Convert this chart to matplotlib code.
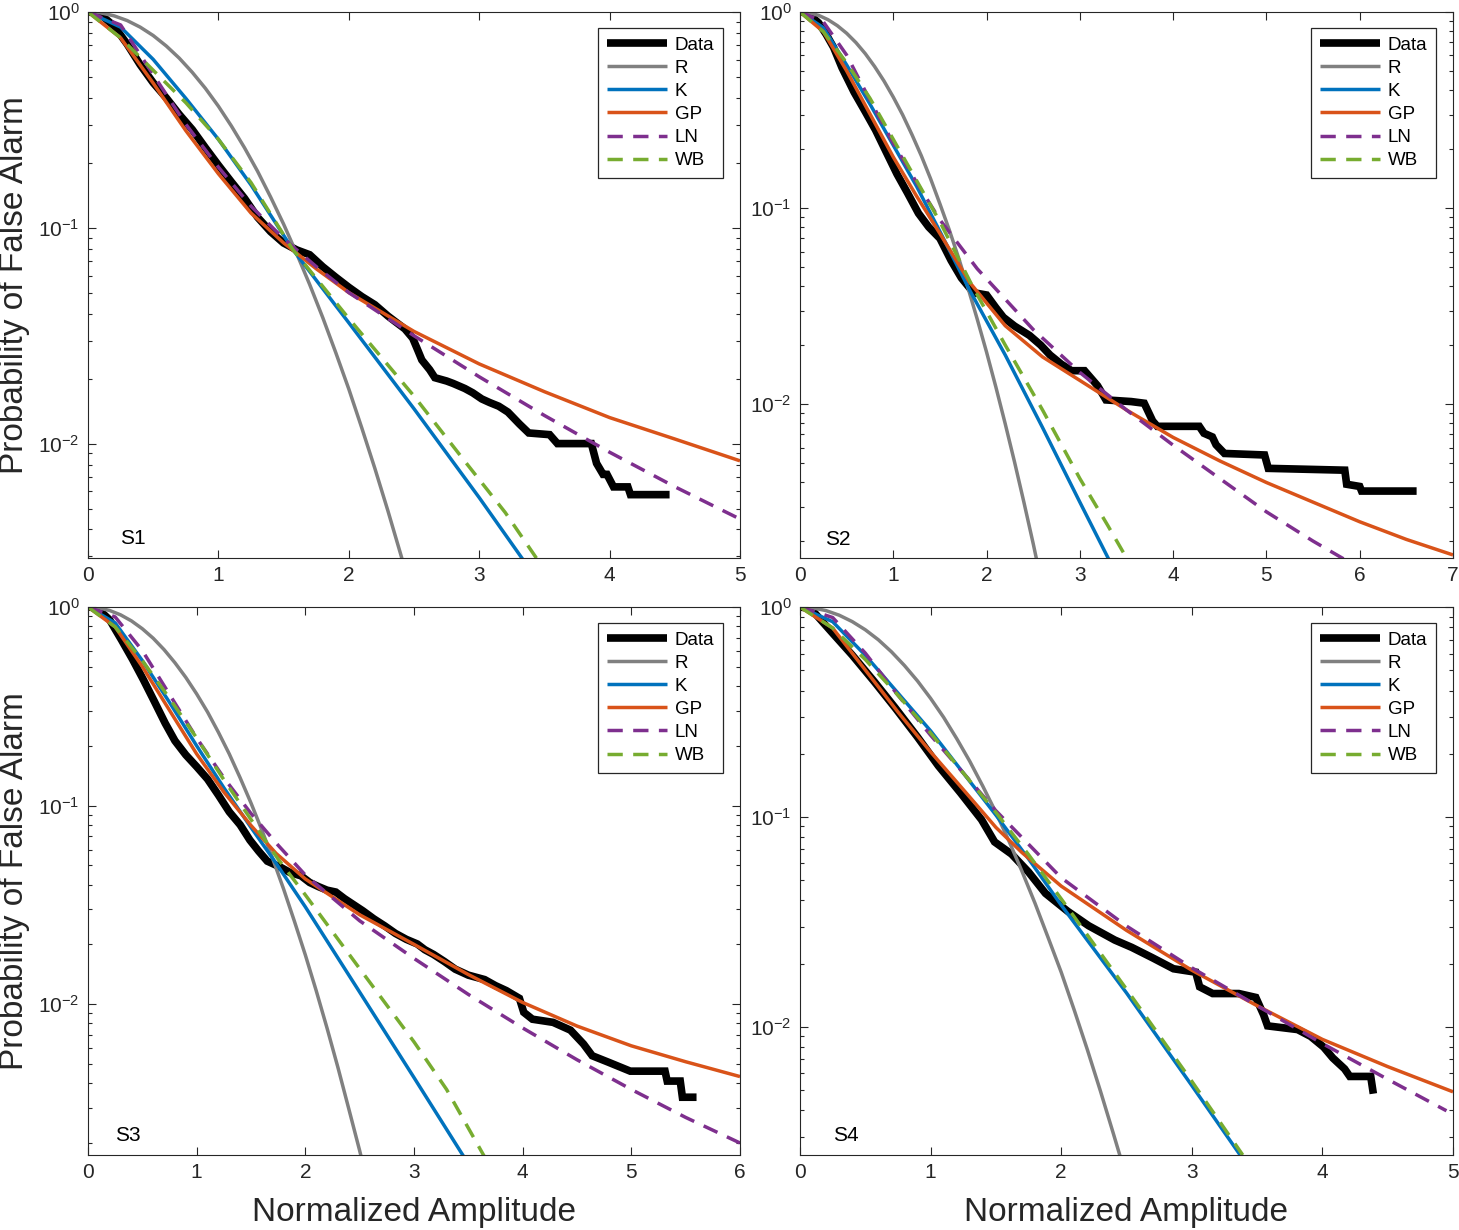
import numpy as np
import matplotlib
matplotlib.use('Agg')
import matplotlib.pyplot as plt
from matplotlib.ticker import FixedLocator, FixedFormatter, LogLocator, NullFormatter

plt.rcParams['font.family'] = ['Liberation Sans', 'DejaVu Sans']
plt.rcParams['mathtext.default'] = 'regular'

# ---------------- data ----------------
panel_names = ['S1', 'S2', 'S3', 'S4']
x_max = [5, 7, 6, 5]
y_min = [0.00295, 0.00164, 0.00174, 0.00245]
series_names = ['Data', 'R', 'K', 'GP', 'LN', 'WB']

r_x = [0, 0.1, 0.2, 0.3, 0.4, 0.5, 0.6, 0.7, 0.8, 0.9, 1.0, 1.1, 1.2, 1.3, 1.4, 1.5, 1.6, 1.7, 1.8, 1.9,
       2.0, 2.1, 2.2, 2.3, 2.4, 2.5, 2.6]

# S1
s1_data_x = [0, 0.05, 0.1, 0.2, 0.3, 0.4, 0.5, 0.6, 0.7, 0.8, 0.9, 1.0, 1.1, 1.2, 1.3, 1.4, 1.5, 1.6, 1.7, 1.8,
             1.9, 2.0, 2.1, 2.2, 2.3, 2.43, 2.49, 2.53, 2.56, 2.62, 2.66, 2.75, 2.80, 2.89, 2.95, 3.02, 3.08,
             3.15, 3.22, 3.31, 3.38, 3.54, 3.60, 3.86, 3.90, 3.95, 3.98, 4.03, 4.14, 4.16, 4.46]
s1_data_y = [1.0, 0.995, 0.97, 0.86, 0.71, 0.57, 0.47, 0.40, 0.335, 0.285, 0.235, 0.195, 0.163, 0.137, 0.112,
             0.096, 0.085, 0.079, 0.075, 0.066, 0.059, 0.053, 0.048, 0.044, 0.039, 0.034, 0.0308, 0.027, 0.0244,
             0.022, 0.0202, 0.0195, 0.0190, 0.0180, 0.0172, 0.0161, 0.0155, 0.0149, 0.0140, 0.0123, 0.0112,
             0.0110, 0.0100, 0.0100, 0.0081, 0.0072, 0.0072, 0.0063, 0.0063, 0.0058, 0.0058]
s1_r_y = [1.0, 0.990, 0.960, 0.913, 0.851, 0.778, 0.696, 0.611, 0.525, 0.443, 0.366, 0.296, 0.235, 0.183,
          0.139, 0.104, 0.0760, 0.0546, 0.0384, 0.0264, 0.0179, 0.0118, 0.00767, 0.00488, 0.00304, 0.00186,
          0.00110]
s1_k_x = [0, 0.25, 0.5, 0.75, 1.0, 1.25, 1.57, 2.0, 2.5, 3.0, 3.35]
s1_k_y = [1.0, 0.851, 0.603, 0.398, 0.257, 0.158, 0.0794, 0.0363, 0.0145, 0.00562, 0.00282]
s1_gp_x = [0, 0.25, 0.5, 0.75, 1.0, 1.25, 1.5, 1.75, 2.0, 2.5, 3.0, 3.5, 4.0, 4.5, 5.0]
s1_gp_y = [1.0, 0.759, 0.468, 0.282, 0.178, 0.117, 0.0851, 0.0646, 0.0501, 0.0331, 0.0234, 0.0174, 0.0132,
           0.0105, 0.00832]
s1_ln_x = [0, 0.25, 0.5, 0.75, 1.0, 1.25, 1.5, 1.75, 2.0, 2.5, 3.0, 3.5, 4.0, 4.5, 5.0]
s1_ln_y = [1.0, 0.871, 0.513, 0.302, 0.191, 0.126, 0.0891, 0.0661, 0.0501, 0.0316, 0.0204, 0.0135, 0.00912,
           0.00631, 0.00447]
s1_wb_x = [0, 0.25, 0.5, 0.75, 1.0, 1.25, 1.57, 2.0, 2.5, 2.9, 3.2, 3.45]
s1_wb_y = [1.0, 0.759, 0.537, 0.380, 0.257, 0.162, 0.0794, 0.0380, 0.0166, 0.00813, 0.00479, 0.00288]

# S2
s2_data_x = [0, 0.05, 0.1, 0.2, 0.28, 0.36, 0.45, 0.58, 0.7, 0.81, 0.92, 1.04, 1.15, 1.27, 1.38, 1.5, 1.62,
             1.73, 1.86, 2.0, 2.1, 2.18, 2.3, 2.46, 2.58, 2.68, 2.8, 2.91, 3.05, 3.19, 3.28, 3.55, 3.69, 3.78,
             3.83, 4.28, 4.33, 4.42, 4.46, 4.55, 4.98, 5.02, 5.84, 5.86, 6.0, 6.02, 6.61]
s2_data_y = [1.0, 0.995, 0.97, 0.88, 0.77, 0.66, 0.52, 0.39, 0.31, 0.25, 0.195, 0.149, 0.12, 0.094, 0.080,
             0.070, 0.054, 0.044, 0.037, 0.036, 0.031, 0.0277, 0.025, 0.0224, 0.020, 0.0178, 0.0160, 0.0148,
             0.0148, 0.0124, 0.0105, 0.0103, 0.0101, 0.0082, 0.0077, 0.0077, 0.0071, 0.0068, 0.0062, 0.0056,
             0.0055, 0.0047, 0.0046, 0.0039, 0.0038, 0.0036, 0.0036]
s2_r_y = [1.0, 0.990, 0.961, 0.914, 0.852, 0.779, 0.698, 0.613, 0.527, 0.445, 0.368, 0.299, 0.237, 0.185,
          0.141, 0.105, 0.0774, 0.0557, 0.0393, 0.0271, 0.0184, 0.0122, 0.00793, 0.00506, 0.00316, 0.00194,
          0.00116]
s2_k_x = [0, 0.25, 0.5, 0.75, 1.0, 1.25, 1.5, 1.82, 2.2, 2.6, 3.0, 3.32]
s2_k_y = [1.0, 0.832, 0.537, 0.339, 0.209, 0.129, 0.0759, 0.0380, 0.0178, 0.00759, 0.00316, 0.00158]
s2_gp_x = [0, 0.25, 0.5, 0.75, 1.0, 1.25, 1.5, 1.82, 2.2, 2.6, 3.0, 3.5, 4.0, 4.5, 5.0, 5.5, 6.0, 6.5, 7.0]
s2_gp_y = [1.0, 0.794, 0.501, 0.302, 0.182, 0.115, 0.0741, 0.0417, 0.0251, 0.0174, 0.0132, 0.00933, 0.00676,
           0.00513, 0.00398, 0.00316, 0.00251, 0.00204, 0.00170]
s2_ln_x = [0, 0.25, 0.5, 0.75, 1.0, 1.25, 1.5, 1.9, 2.5, 3.0, 3.5, 4.0, 4.5, 5.0, 5.5, 5.9]
s2_ln_y = [1.0, 0.891, 0.603, 0.355, 0.214, 0.135, 0.0871, 0.0490, 0.0240, 0.0145, 0.00933, 0.00617, 0.00417,
           0.00282, 0.00200, 0.00155]
s2_wb_x = [0, 0.25, 0.5, 0.75, 1.0, 1.25, 1.5, 1.85, 2.2, 2.6, 3.0, 3.3, 3.52]
s2_wb_y = [1.0, 0.794, 0.550, 0.363, 0.224, 0.138, 0.0851, 0.0398, 0.0200, 0.00933, 0.00417, 0.00240, 0.00158]

# S3
s3_data_x = [0, 0.05, 0.1, 0.2, 0.31, 0.41, 0.51, 0.61, 0.71, 0.80, 0.90, 1.0, 1.1, 1.2, 1.30, 1.40, 1.49,
             1.57, 1.65, 1.77, 1.86, 1.96, 2.04, 2.12, 2.2, 2.28, 2.36, 2.44, 2.53, 2.63, 2.73, 2.83, 2.93,
             3.03, 3.10, 3.18, 3.28, 3.38, 3.5, 3.65, 3.75, 3.85, 3.97, 4.01, 4.09, 4.28, 4.44, 4.56, 4.64,
             4.79, 4.99, 5.31, 5.33, 5.45, 5.47, 5.60]
s3_data_y = [1.0, 0.995, 0.97, 0.86, 0.68, 0.545, 0.43, 0.335, 0.26, 0.212, 0.18, 0.157, 0.136, 0.113, 0.093,
             0.080, 0.067, 0.059, 0.0525, 0.049, 0.046, 0.0443, 0.041, 0.0391, 0.0375, 0.0367, 0.0340, 0.0318,
             0.0295, 0.0269, 0.0248, 0.0227, 0.0212, 0.0201, 0.0188, 0.0178, 0.0164, 0.0150, 0.0140, 0.0133,
             0.0124, 0.0117, 0.0107, 0.0091, 0.0084, 0.0081, 0.0074, 0.0063, 0.0055, 0.0051, 0.0046, 0.0046,
             0.0041, 0.0041, 0.0034, 0.0034]
s3_r_y = [1.0, 0.990, 0.960, 0.913, 0.851, 0.777, 0.696, 0.610, 0.524, 0.442, 0.365, 0.296, 0.234, 0.182,
          0.138, 0.103, 0.0753, 0.0540, 0.0380, 0.0261, 0.0177, 0.0117, 0.00757, 0.00480, 0.00297, 0.00183,
          0.00109]
s3_k_x = [0, 0.25, 0.5, 0.75, 1.0, 1.25, 1.5, 1.73, 2.0, 2.5, 3.0, 3.46]
s3_k_y = [1.0, 0.832, 0.537, 0.331, 0.200, 0.123, 0.0776, 0.0513, 0.0309, 0.0115, 0.00427, 0.00170]
s3_gp_x = [0, 0.25, 0.5, 0.75, 1.0, 1.25, 1.5, 1.73, 2.0, 2.5, 3.0, 3.5, 4.0, 4.5, 5.0, 5.5, 6.0]
s3_gp_y = [1.0, 0.794, 0.501, 0.302, 0.182, 0.117, 0.0794, 0.0575, 0.0427, 0.0282, 0.0200, 0.0141, 0.0102,
           0.00776, 0.00617, 0.00513, 0.00432]
s3_ln_x = [0, 0.25, 0.5, 0.75, 1.0, 1.25, 1.5, 1.75, 2.0, 2.5, 3.0, 3.5, 4.0, 4.5, 5.0, 5.5, 6.0]
s3_ln_y = [1.0, 0.891, 0.603, 0.363, 0.219, 0.138, 0.0912, 0.0631, 0.0447, 0.0263, 0.0170, 0.0112, 0.00759,
           0.00525, 0.00372, 0.00269, 0.00200]
s3_wb_x = [0, 0.25, 0.5, 0.75, 1.0, 1.25, 1.5, 1.75, 2.0, 2.5, 3.0, 3.3, 3.65]
s3_wb_y = [1.0, 0.794, 0.537, 0.347, 0.219, 0.135, 0.0851, 0.0537, 0.0355, 0.0151, 0.00646, 0.00372, 0.00170]

# S4
s4_data_x = [0, 0.05, 0.1, 0.25, 0.4, 0.57, 0.73, 0.90, 1.06, 1.23, 1.39, 1.49, 1.62, 1.75, 1.88, 2.05, 2.21,
             2.41, 2.54, 2.70, 2.86, 3.03, 3.06, 3.16, 3.36, 3.49, 3.55, 3.58, 3.81, 3.91, 4.01, 4.08, 4.17,
             4.21, 4.37, 4.39]
s4_data_y = [1.0, 0.99, 0.955, 0.75, 0.59, 0.44, 0.33, 0.24, 0.175, 0.13, 0.097, 0.076, 0.0665, 0.0546,
             0.0432, 0.0355, 0.0303, 0.0259, 0.0239, 0.0213, 0.0189, 0.0182, 0.0155, 0.0144, 0.0144, 0.0138,
             0.0114, 0.0101, 0.0097, 0.0090, 0.0080, 0.0071, 0.0063, 0.0058, 0.0058, 0.0048]
s4_r_y = [1.0, 0.990, 0.961, 0.914, 0.852, 0.779, 0.698, 0.612, 0.526, 0.444, 0.367, 0.298, 0.236, 0.184,
          0.140, 0.105, 0.0767, 0.0550, 0.0387, 0.0266, 0.0182, 0.0120, 0.00779, 0.00495, 0.00309, 0.00191,
          0.00113]
s4_k_x = [0, 0.25, 0.5, 0.75, 1.0, 1.25, 1.5, 1.75, 2.0, 2.5, 3.0, 3.37]
s4_k_y = [1.0, 0.851, 0.589, 0.389, 0.257, 0.162, 0.102, 0.0631, 0.0380, 0.0145, 0.00525, 0.00245]
s4_gp_x = [0, 0.25, 0.5, 0.75, 1.0, 1.25, 1.5, 1.7, 2.0, 2.5, 3.0, 3.5, 4.0, 4.5, 5.0]
s4_gp_y = [1.0, 0.794, 0.501, 0.316, 0.204, 0.135, 0.0891, 0.0676, 0.0468, 0.0288, 0.0186, 0.0126, 0.00871,
           0.00646, 0.00490]
s4_ln_x = [0, 0.25, 0.5, 0.75, 1.0, 1.25, 1.5, 1.75, 2.0, 2.5, 3.0, 3.5, 4.0, 4.5, 4.95]
s4_ln_y = [1.0, 0.891, 0.603, 0.380, 0.245, 0.162, 0.107, 0.0741, 0.0513, 0.0302, 0.0191, 0.0126, 0.00832,
           0.00562, 0.00398]
s4_wb_x = [0, 0.25, 0.5, 0.75, 1.0, 1.25, 1.5, 1.75, 2.0, 2.5, 3.0, 3.39]
s4_wb_y = [1.0, 0.794, 0.562, 0.380, 0.251, 0.162, 0.105, 0.0661, 0.0407, 0.0151, 0.00550, 0.00245]

panels = [
    [(s1_data_x, s1_data_y), (r_x, s1_r_y), (s1_k_x, s1_k_y), (s1_gp_x, s1_gp_y), (s1_ln_x, s1_ln_y), (s1_wb_x, s1_wb_y)],
    [(s2_data_x, s2_data_y), (r_x, s2_r_y), (s2_k_x, s2_k_y), (s2_gp_x, s2_gp_y), (s2_ln_x, s2_ln_y), (s2_wb_x, s2_wb_y)],
    [(s3_data_x, s3_data_y), (r_x, s3_r_y), (s3_k_x, s3_k_y), (s3_gp_x, s3_gp_y), (s3_ln_x, s3_ln_y), (s3_wb_x, s3_wb_y)],
    [(s4_data_x, s4_data_y), (r_x, s4_r_y), (s4_k_x, s4_k_y), (s4_gp_x, s4_gp_y), (s4_ln_x, s4_ln_y), (s4_wb_x, s4_wb_y)],
]

# ---------------- styles ----------------
colors = ['#000000', '#808080', '#0072BD', '#D95319', '#7E2F8E', '#77AC30']
widths = [5.5, 2.5, 2.5, 2.5, 2.5, 2.5]
dashed = [False, False, False, False, True, True]
axis_col = '#262626'

W, H = 1459, 1230
fig = plt.figure(figsize=(W / 100, H / 100), dpi=100)

# pixel boxes (left, top, right, bottom)
boxes = [(88, 12, 740, 558), (800, 12, 1453, 558), (88, 607, 740, 1155), (800, 607, 1453, 1155)]
label_pos = [(0.069, 0.036), (0.058, 0.033), (0.061, 0.036), (0.070, 0.036)]

for i, (l, t, r, b) in enumerate(boxes):
    ax = fig.add_axes([l / W, 1 - b / H, (r - l) / W, (b - t) / H])
    handles = []
    for j, (xs, ys) in enumerate(panels[i]):
        line, = ax.plot(xs, ys, color=colors[j], lw=widths[j], label=series_names[j],
                        solid_joinstyle='miter' if j == 0 else 'round', solid_capstyle='butt')
        if dashed[j]:
            line.set_dashes((4.4, 3.0))
            line.set_dash_capstyle('butt')
        handles.append(line)
    ax.set_yscale('log')
    ax.set_xlim(0, x_max[i])
    ax.set_ylim(y_min[i], 1.0)
    ax.xaxis.set_major_locator(FixedLocator(list(range(0, x_max[i] + 1))))
    ax.yaxis.set_major_locator(FixedLocator([0.01, 0.1, 1.0]))
    ax.yaxis.set_major_formatter(FixedFormatter(['$10^{-2}$', '$10^{-1}$', '$10^{0}$']))
    ax.yaxis.set_minor_locator(LogLocator(base=10, subs=np.arange(2, 10)))
    ax.yaxis.set_minor_formatter(NullFormatter())
    ax.tick_params(which='both', direction='in', top=True, right=True, colors=axis_col,
                   labelcolor=axis_col, width=0.8)
    ax.tick_params(which='major', length=5.5, labelsize=15, pad=6)
    ax.tick_params(which='minor', length=3)
    for sp in ax.spines.values():
        sp.set_color(axis_col)
        sp.set_linewidth(0.8)
    ax.text(label_pos[i][0], label_pos[i][1], panel_names[i], transform=ax.transAxes,
            fontsize=15, ha='center', va='center', color='#000000')
    leg = ax.legend(handles=handles, loc='upper right', bbox_to_anchor=(1 - 17 / (r - l), 1 - 16 / (b - t)),
                    borderaxespad=0, fontsize=13.5, handlelength=3.2, handletextpad=0.45,
                    labelspacing=0.32, borderpad=0.45, fancybox=False, framealpha=1.0)
    leg.get_frame().set_edgecolor(axis_col)
    leg.get_frame().set_linewidth(0.9)

    if i in (0, 2):
        fig.text(15 / W, 1 - ((t + b) / 2) / H, 'Probability of False Alarm', rotation=90,
                 ha='center', va='center', fontsize=24, color=axis_col)
    if i in (2, 3):
        fig.text(((l + r) / 2) / W, 1 - 1213 / H, 'Normalized Amplitude',
                 ha='center', va='center', fontsize=24, color=axis_col)

fig.savefig('out.png', dpi=100)
